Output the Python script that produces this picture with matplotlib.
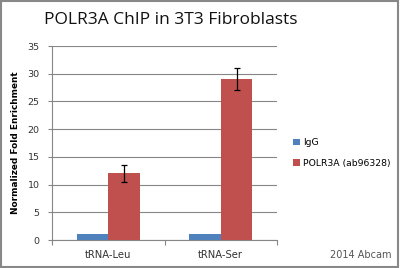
import matplotlib
matplotlib.use("Agg")
import matplotlib.pyplot as plt
import numpy as np
from matplotlib.patches import Rectangle

categories = ["tRNA-Leu", "tRNA-Ser"]
igg_values = [1.0, 1.0]
polr3a_values = [12.0, 29.0]
polr3a_errors = [1.5, 2.0]
series_names = ["IgG", "POLR3A (ab96328)"]
yticks = [0, 5, 10, 15, 20, 25, 30, 35]

blue = "#4F81BD"
red = "#C0504D"
grid_c = "#868686"

W, H = 400, 268
fig = plt.figure(figsize=(W / 100, H / 100), dpi=100)
ax = fig.add_axes([52 / W, 1 - 240 / H, 225 / W, 194 / H])

x = np.arange(len(categories))
bw = 0.28
ax.bar(x - bw / 2, igg_values, bw, color=blue, label=series_names[0], zorder=3)
ax.bar(x + bw / 2, polr3a_values, bw, color=red, label=series_names[1], zorder=3,
       yerr=polr3a_errors, error_kw=dict(ecolor="black", elinewidth=0.9, capsize=2.5, capthick=0.9))

ax.set_xlim(-0.5, 1.5)
ax.set_ylim(0, 35)
ax.set_yticks(yticks)
ax.set_yticklabels([str(v) for v in yticks], fontsize=6.8, color="#333333")
ax.set_xticks(x)
ax.set_xticklabels(categories, fontsize=7.2, color="#333333")
ax.set_xticks([-0.5, 0.5, 1.5], minor=True)
ax.tick_params(axis="x", which="major", length=0, pad=7)
ax.tick_params(axis="x", which="minor", length=3.5, color=grid_c, width=0.8)
ax.tick_params(axis="y", length=3, color=grid_c, width=0.8, pad=6)
ax.yaxis.grid(True, color=grid_c, linewidth=0.8, zorder=0)
ax.set_axisbelow(True)
for s in ["top", "right"]:
    ax.spines[s].set_visible(False)
for s in ["left", "bottom"]:
    ax.spines[s].set_color(grid_c)
    ax.spines[s].set_linewidth(0.8)

ax.set_ylabel("Normalized Fold Enrichment", fontsize=6.4, fontweight="bold", labelpad=5)

fig.text(44 / W, 1 - 20 / H, "POLR3A ChIP in 3T3 Fibroblasts", fontsize=12.5,
         family="Open Sans", va="center", ha="left", color="#111111")

fig.legend(loc="upper left",
           bbox_to_anchor=(285 / W, 1 - 130 / H), frameon=False, fontsize=6.7,
           handlelength=0.7, handleheight=0.7, handletextpad=0.35, labelspacing=1.2)

fig.text(391 / W, 1 - 255 / H, "2014 Abcam", fontsize=7, color="#555555",
         ha="right", va="center")

fig.add_artist(Rectangle((0.002, 0.003), 0.994, 0.992, transform=fig.transFigure,
                         fill=False, edgecolor="#888888", linewidth=1.5))

fig.savefig("out.png", dpi=100)
